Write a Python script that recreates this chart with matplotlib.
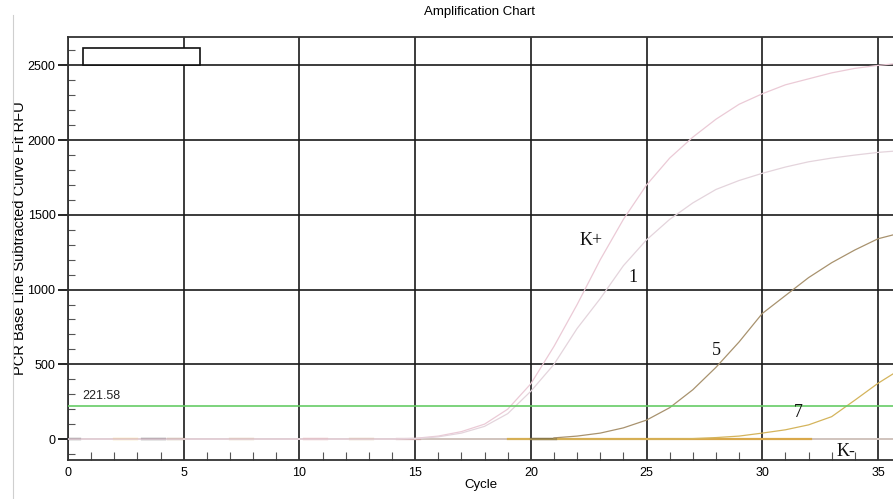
import matplotlib
matplotlib.use("Agg")
import matplotlib.pyplot as plt
from matplotlib.ticker import MultipleLocator
from matplotlib.lines import Line2D
from matplotlib.patches import Rectangle

# ---- data ----
cycles = list(range(0, 37))
kpos = [0]*15 + [5, 20, 50, 100, 200, 370, 620, 900, 1200, 1470, 1700, 1880, 2020,
                 2140, 2240, 2310, 2370, 2410, 2450, 2480, 2500, 2515]
s1 = [0]*15 + [3, 15, 40, 85, 170, 320, 500, 740, 940, 1160, 1333, 1470, 1580,
               1670, 1730, 1778, 1820, 1855, 1880, 1900, 1918, 1930]
c5 = list(range(21, 37))
s5 = [8, 20, 40, 75, 127, 210, 330, 480, 650, 840, 960, 1080, 1180, 1265, 1340, 1380]
c7 = list(range(19, 37))
s7 = [0, 0, 0, 0, 0, 0, 0, 0, 3, 10, 20, 40, 62, 95, 150, 260, 373, 470]
kneg_x = [0, 36]
kneg = [0, 0]
threshold = 221.58
# short flat baseline traces of other wells: (start cycle, end cycle, colour)
flat_segments = [(0.0, 0.5, "#333333"), (2.0, 3.0, "#e6b84a"), (3.2, 4.2, "#222222"),
                 (4.3, 5.0, "#9a7a50"), (7.0, 8.0, "#c8a070"), (10.2, 11.2, "#d89090"),
                 (12.2, 13.2, "#c8a070"), (14.2, 15.2, "#d0a8a8"), (19.0, 32.1, "#d9a84a"),
                 (20.0, 21.1, "#333333")]
labels = [("K+", 22.6, 1330), ("1", 24.4, 1080), ("5", 28.0, 595), ("7", 31.55, 175), ("K-", 33.6, -85)]

W, H = 893, 499
fig = plt.figure(figsize=(W/100, H/100), dpi=100)
ax = fig.add_axes([68/W, 1-460/H, 1-68/W, (460-37)/H])

ax.set_xlim(0, 35.65)
ax.set_ylim(-140, 2690)

ax.plot(kneg_x, kneg, color="#d6c8c2", lw=1.4, zorder=3)
for a, b, col in flat_segments:
    ax.plot([a, b], [0, 0], color=col, lw=1.6, zorder=3)
ax.plot(cycles, kpos, color="#ebcad6", lw=0.9, zorder=4)
ax.plot(cycles, s1, color="#e4d4dc", lw=0.9, zorder=4)
ax.plot(c5, s5, color="#a8926e", lw=0.9, zorder=4)
ax.plot(c7, s7, color="#d4b45c", lw=0.9, zorder=4)
ax.axhline(threshold, color="#66cc66", lw=1.2, zorder=5)
ax.text(0.6, threshold + 25, f"{threshold:.2f}", fontsize=9, family="Liberation Sans",
        va="bottom", ha="left", color="#222222")

for txt, x, y in labels:
    ax.text(x, y, txt, fontsize=13, family="Liberation Serif", ha="center", va="center",
            color="#111111", zorder=6)

ax.xaxis.set_major_locator(MultipleLocator(5))
ax.xaxis.set_minor_locator(MultipleLocator(1))
ax.yaxis.set_major_locator(MultipleLocator(500))
ax.yaxis.set_minor_locator(MultipleLocator(100))
ax.grid(True, which="major", color="#1a1a1a", lw=1.2, zorder=1)
ax.set_axisbelow(True)
ax.tick_params(axis="y", which="major", direction="out", length=7, width=1.2, labelsize=9, pad=2)
ax.tick_params(axis="y", which="minor", direction="in", length=5, width=0.8, color="#555555")
ax.tick_params(axis="x", which="major", direction="in", length=0, labelsize=9, pad=5)
ax.tick_params(axis="x", which="minor", direction="in", length=6, width=0.8, color="#555555")
for lab in ax.get_xticklabels() + ax.get_yticklabels():
    lab.set_family("Liberation Sans")
for sp in ax.spines.values():
    sp.set_color("#333333")
    sp.set_linewidth(1.3)
ax.spines["right"].set_visible(False)

ax.add_patch(Rectangle((0.018, 0.934), 0.142, 0.040, transform=ax.transAxes,
                       facecolor="white", edgecolor="#111111", lw=1.2, zorder=7))

ax.set_xlabel("Cycle", fontsize=9.5, family="Liberation Sans", labelpad=0)
ax.set_ylabel("PCR Base Line Subtracted Curve Fit RFU", fontsize=10.5, family="Liberation Sans")
ax.yaxis.set_label_coords(-0.05, 0.525)
fig.text(480/W, 1-12/H, "Amplification Chart", fontsize=9.5, family="Liberation Sans",
         ha="center", va="center")
fig.add_artist(Line2D([13/W, 13/W], [0, 1-15/H], color="#cfcfcf", lw=0.8))

fig.savefig("out.png", dpi=100)
